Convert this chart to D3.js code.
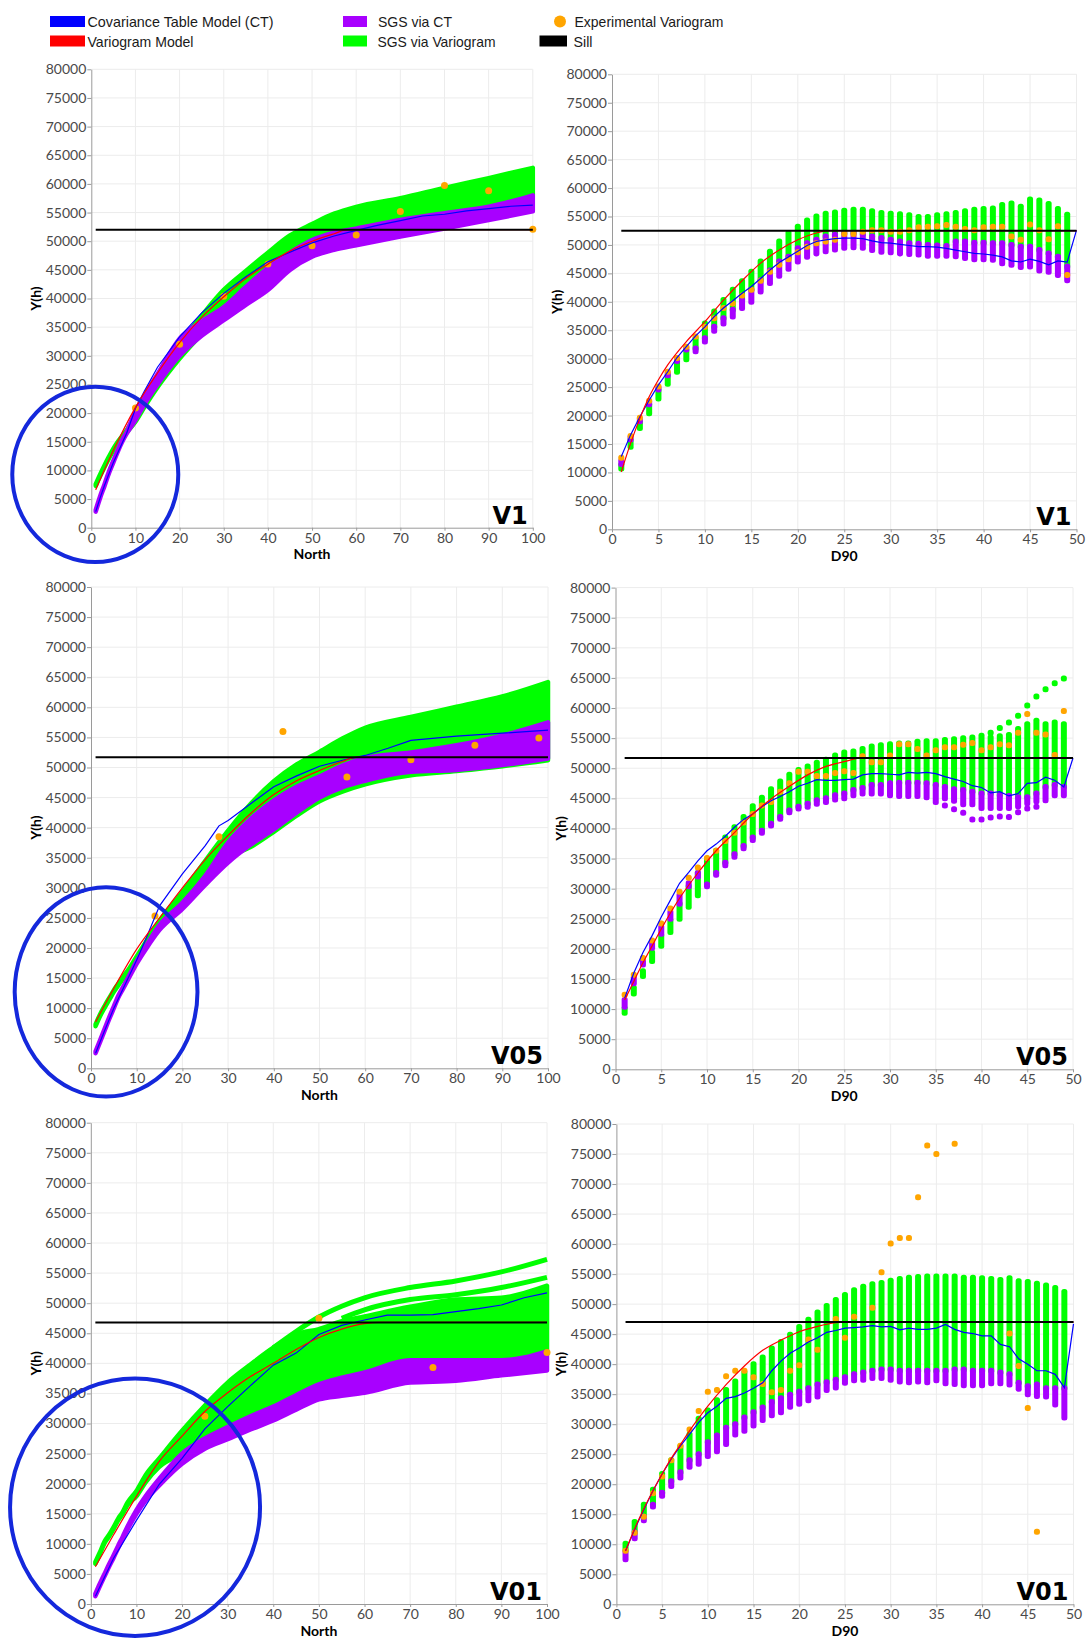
<!DOCTYPE html>
<html lang="en">
<head>
<meta charset="UTF-8">
<title>SGS variograms</title>
<script src="https://cdn.jsdelivr.net/npm/d3@7"></script>
<style>
  body { margin: 0; background: #fff; }
  .tick text { font-family: Lato, "Noto Sans", sans-serif; font-size: 14px; fill: #4a4a4a; }
  .tick line, .domain { stroke: #9a9a9a; }
</style>
</head>
<body>
<script>
var W = 1086, H = 1639;

// ---- ticks and lags ----
var yTicks = [0, 5000, 10000, 15000, 20000, 25000, 30000, 35000, 40000, 45000, 50000, 55000, 60000, 65000, 70000, 75000, 80000];
var northTicks = [0, 10, 20, 30, 40, 50, 60, 70, 80, 90, 100];
var d90Ticks = [0, 5, 10, 15, 20, 25, 30, 35, 40, 45, 50];
var northLags = [1, 2, 3, 4, 5, 6, 7, 8, 10, 12, 15, 20, 25, 30, 35, 40, 45, 50, 55, 60, 70, 80, 90, 100];
var d90Lags = d3.range(1, 50);
var d90LineLags = d3.range(1, 51);

// ---- V1 North ----
var v1NorthSill = 52000;
var v1NorthGreenHi = [7600, 9300, 10900, 12400, 13800, 15000, 16000, 17000, 19800, 22300, 26000, 32000, 37000, 41500, 44800, 48000, 51000, 53000, 54800, 56000, 57500, 59300, 61000, 62800];
var v1NorthGreenLo = [7300, 9000, 10600, 12100, 13500, 14700, 15700, 16600, 18500, 21000, 24500, 29500, 33800, 38000, 41800, 45300, 48000, 50200, 51500, 52200, 53700, 54900, 56000, 58000];
var v1NorthPurpleLo = [2800, 5200, 7300, 9500, 11400, 13300, 15000, 16400, 18800, 21500, 25000, 30000, 33500, 36200, 38900, 41500, 45000, 47300, 48500, 49300, 50800, 52200, 53700, 55200];
var v1NorthPurpleHi = [3100, 5500, 7600, 9800, 11700, 13600, 15300, 16700, 20300, 23000, 26800, 33000, 36000, 38500, 42000, 45300, 48000, 50200, 51500, 52200, 53700, 54900, 56000, 58000];
var v1NorthBlueLags = [1, 2, 3, 5, 8, 10, 12, 15, 20, 25, 30, 35, 40, 45, 50, 55, 60, 65, 70, 75, 80, 85, 90, 95, 100];
var v1NorthBlue = [2800, 5200, 7400, 11400, 16500, 20800, 23800, 28000, 33300, 37500, 40900, 43800, 46400, 48100, 49700, 50900, 51900, 52800, 53600, 54400, 54700, 55300, 55700, 56100, 56300];
var v1NorthRedLags = [1, 5, 10, 15, 20, 25, 30, 35, 40, 45, 50, 55, 58, 70, 80, 90, 100];
var v1NorthRed = [6600, 13500, 21000, 27000, 32300, 36700, 40300, 43500, 46000, 48300, 50000, 51300, 52000, 52000, 52000, 52000, 52000];
var v1NorthExpLags = [10, 20, 30, 40, 50, 60, 70, 80, 90, 100];
var v1NorthExp = [20900, 32000, 40400, 46000, 49200, 51100, 55200, 59700, 58800, 52100];

// ---- V05 North ----
var v05NorthSill = 51700;
var v05NorthGreenHi = [7300, 9000, 10400, 11700, 13000, 14100, 15200, 16200, 18600, 21000, 24500, 29300, 34500, 39500, 44000, 47700, 50500, 52600, 54800, 56600, 58400, 60100, 61800, 64200];
var v05NorthGreenLo = [7000, 8700, 10100, 11400, 12700, 13800, 14900, 15900, 18000, 20300, 23600, 27000, 31000, 35000, 36800, 39300, 42000, 44400, 46000, 47200, 48700, 49400, 50200, 51200];
var v05NorthPurpleLo = [2500, 4400, 6300, 8200, 10000, 11800, 13200, 14600, 17400, 19800, 23000, 26500, 30500, 34200, 37200, 39700, 42500, 45000, 46700, 47800, 49300, 49600, 50400, 51500];
var v05NorthPurpleHi = [2800, 4700, 6600, 8500, 10300, 12100, 13500, 14900, 17800, 20300, 23800, 27500, 32000, 37500, 41500, 44500, 46800, 48500, 50300, 51600, 52500, 53700, 55300, 57500];
var v05NorthBlueLags = [1, 3, 5, 8, 10, 12, 15, 20, 25, 28, 30, 35, 40, 45, 50, 55, 60, 65, 70, 80, 90, 100];
var v05NorthBlue = [2500, 6300, 10000, 14800, 18000, 21500, 27000, 32300, 37000, 40300, 41200, 44000, 46800, 48600, 50200, 51200, 52000, 53200, 54500, 55200, 55700, 56200];
var v05NorthRedLags = [1, 5, 10, 15, 20, 25, 30, 35, 40, 45, 50, 55, 58, 70, 80, 90, 100];
var v05NorthRed = [7700, 13300, 19800, 25000, 30000, 34700, 38700, 42400, 45500, 47800, 49500, 51000, 51700, 51700, 51700, 51700, 51700];
var v05NorthExpLags = [14, 28, 42, 56, 70, 84, 98];
var v05NorthExp = [25300, 38500, 56000, 48400, 51300, 53700, 54900];

// ---- V01 North ----
var v01NorthSill = 46800;
var v01NorthGreenHi = [7000, 8600, 10400, 11500, 12800, 14200, 15300, 16800, 18800, 21400, 24200, 28800, 33000, 36800, 39800, 42600, 44800, 45700, 47000, 47800, 49400, 50600, 50900, 52900];
var v01NorthGreenLo = [6700, 8300, 10100, 11200, 12500, 13900, 15000, 16400, 17900, 20200, 22800, 25000, 27500, 29400, 31200, 32800, 34700, 36500, 37600, 38500, 40500, 40500, 40500, 42000];
var v01NorthPurpleLo = [1300, 3000, 4600, 6200, 7700, 9300, 10800, 12300, 15000, 17200, 19700, 23300, 25800, 27400, 29000, 30500, 32300, 34000, 34600, 35100, 36800, 37100, 38000, 38800];
var v01NorthPurpleHi = [1700, 3400, 5000, 6600, 8100, 9700, 11200, 12800, 15600, 17900, 20800, 25000, 27500, 29400, 31200, 32800, 34700, 36500, 37600, 38500, 40500, 40500, 40500, 42000];
var v01NorthTopRealLags = [40, 45, 50, 55, 60, 70, 80, 90, 100];
var v01NorthTopReal = [42600, 45300, 47700, 49500, 50900, 52600, 53700, 55200, 57300];
var v01NorthSecondRealLags = [55, 60, 70, 80, 90, 100];
var v01NorthSecondReal = [47500, 48900, 50600, 51400, 52600, 54300];
var v01NorthBlueLags = [1, 5, 10, 15, 20, 25, 30, 35, 40, 45, 50, 55, 60, 65, 70, 75, 80, 85, 90, 95, 100];
var v01NorthBlue = [1300, 7600, 13900, 19900, 24200, 29100, 32800, 36300, 39700, 41700, 44800, 46300, 47200, 48000, 48000, 48100, 48600, 49100, 49700, 50900, 51700];
var v01NorthRedLags = [1, 5, 10, 15, 20, 25, 30, 35, 40, 45, 50, 55, 60, 63, 70, 80, 90, 100];
var v01NorthRed = [6200, 11500, 17900, 23700, 27900, 32000, 35100, 37800, 40000, 42300, 44300, 45700, 46600, 46800, 46800, 46800, 46800, 46800];
var v01NorthExpLags = [25, 50, 75, 100];
var v01NorthExp = [31200, 47500, 39300, 41800];

// ---- V1 D90 ----
var v1D90Sill = 52500;
var v1D90Exp = [12600, 16400, 19600, 22600, 25100, 27700, 30100, 32100, 33900, 35600, 37100, 38900, 39700, 41100, 42100, 43700, 45300, 46500, 47500, 48700, 49700, 50300, 50600, 50900, 51900, 51900, 52300, 52600, 52600, 52300, 52300, 52600, 53100, 53200, 53300, 53500, 53200, 52800, 52600, 53100, 53200, 53200, 51500, 50900, 53600, 52600, 51000, 53300, 44700];
var v1D90GreenHi = [11300, 15700, 18900, 21900, 24500, 27000, 29500, 31500, 33600, 36200, 38300, 40300, 42100, 43600, 45300, 47100, 48800, 50600, 52100, 53200, 54300, 55000, 55500, 55700, 56000, 56200, 56200, 55900, 55600, 55500, 55400, 55200, 54900, 54900, 55200, 55400, 55600, 55900, 56200, 56300, 56400, 57000, 57300, 56700, 58000, 57800, 57200, 56300, 55300];
var v1D90GreenLo = [10700, 14500, 17800, 20400, 23000, 25600, 27700, 29900, 31800, 33600, 35600, 37100, 38600, 40300, 42100, 43800, 45500, 47100, 47900, 49400, 50300, 50900, 51500, 51800, 52100, 52100, 51900, 51500, 51200, 50900, 50600, 50300, 50200, 50000, 49900, 49800, 50600, 50600, 50400, 50400, 50300, 50300, 50000, 49700, 49700, 49100, 48500, 47900, 46200];
var v1D90PurpleLo = [11500, 15800, 19000, 22000, 24600, 27100, 29600, 31600, 31300, 33000, 34900, 36200, 37400, 38900, 40000, 41800, 43300, 44600, 45800, 47100, 47900, 48500, 48900, 49200, 49500, 49600, 49500, 49100, 48800, 48700, 48500, 48400, 48300, 48100, 48100, 48100, 48000, 47700, 47500, 47500, 47400, 46800, 46500, 46100, 46200, 45500, 45300, 44700, 43800];
var v1D90PurpleHi = [12000, 16200, 19400, 22400, 24900, 27400, 29900, 31900, 31800, 33600, 35600, 37100, 38600, 40300, 42100, 43800, 45500, 47100, 47900, 49400, 50300, 50900, 51500, 51800, 52100, 52100, 51900, 51500, 51200, 50900, 50600, 50300, 50200, 50000, 49900, 49800, 50600, 50600, 50400, 50400, 50300, 50300, 50000, 49700, 49700, 49100, 48500, 47900, 46200];
var v1D90Blue = [12800, 16600, 19800, 22700, 25400, 27700, 30200, 32100, 34000, 35600, 37400, 38900, 40200, 41500, 42700, 44100, 45600, 46900, 47900, 48900, 49900, 50600, 50900, 51100, 51200, 51200, 51100, 50700, 50400, 50300, 50100, 49900, 49700, 49700, 49600, 49400, 49100, 48800, 48500, 48400, 48200, 47900, 47200, 47000, 47500, 47100, 46500, 47200, 47000, 52600];
var v1D90RedLags = [1, 2, 3, 4, 5, 6, 8, 10, 12, 14, 16, 18, 20, 22, 23.5, 50];
var v1D90Red = [10100, 15100, 19500, 23300, 26300, 28900, 33000, 36500, 40300, 43700, 46800, 49100, 50900, 52100, 52500, 52500];

// ---- V05 D90 ----
var v05D90Sill = 51700;
var v05D90Exp = [12400, 15700, 18500, 21400, 24200, 26700, 29500, 31800, 33500, 35100, 36300, 37900, 39300, 41000, 42400, 43800, 44400, 46100, 47500, 49400, 49400, 48700, 48700, 49200, 49500, 49200, 52000, 51000, 51000, 52100, 54000, 54000, 53200, 52100, 53000, 53500, 53500, 53900, 54200, 53000, 53500, 54000, 53800, 55900, 59000, 55900, 55600, 52200, 59500];
var v05D90GreenHi = [10100, 13500, 16300, 19400, 22200, 24700, 27500, 30400, 32600, 34900, 36300, 38500, 40200, 41900, 43700, 45100, 46500, 47800, 48900, 49700, 50300, 50900, 51400, 52100, 52600, 52800, 53200, 53600, 53800, 54000, 54100, 54100, 54400, 54500, 54500, 54700, 54800, 55000, 55100, 55400, 55100, 55300, 55500, 56500, 57300, 57900, 57300, 57600, 57300];
var v05D90GreenLo = [9400, 12600, 15500, 18000, 20500, 22800, 25000, 27000, 28900, 30700, 32600, 34300, 35700, 37100, 38500, 39600, 40800, 41900, 43000, 43600, 44100, 44700, 45000, 45500, 45800, 46400, 46700, 47200, 47200, 47500, 47600, 47600, 47600, 47500, 47200, 46900, 46500, 46400, 46100, 45800, 45800, 45500, 45400, 45200, 45200, 45800, 46900, 47200, 46900];
var v05D90PurpleLo = [10400, 14300, 17400, 20200, 22500, 25000, 27500, 30400, 32000, 30400, 32300, 33900, 35300, 36700, 38100, 39300, 40500, 41600, 42700, 43300, 43600, 44100, 44400, 44800, 45000, 45500, 45800, 45800, 45800, 45500, 45400, 45400, 45400, 45200, 44400, 45000, 44600, 44000, 44000, 43400, 43400, 43400, 43400, 43700, 44200, 44500, 44700, 45500, 45500];
var v05D90PurpleHi = [11500, 15200, 18000, 21100, 23600, 26100, 28900, 30900, 32600, 30700, 32600, 34300, 35700, 37100, 38500, 39600, 40800, 41900, 43000, 43600, 44100, 44700, 45000, 45500, 45800, 46400, 46700, 47200, 47200, 47500, 47600, 47600, 47600, 47500, 47200, 46900, 46500, 46400, 46100, 45800, 45800, 45500, 45400, 45200, 45200, 45800, 46900, 47200, 46900];
var v05D90PurpleDotLags = [36, 37, 38, 39, 40, 41, 42, 43, 44, 45, 46];
var v05D90PurpleDots = [43800, 43200, 42600, 41500, 41500, 41800, 42000, 41900, 42700, 43300, 43600];
var v05D90GreenDotLags = [41, 42, 43, 44, 45, 46, 47, 48, 49];
var v05D90GreenDots = [55900, 56700, 57600, 58700, 60400, 61900, 63100, 64100, 64900];
var v05D90Blue = [11800, 16000, 19400, 22200, 25300, 28100, 30900, 32700, 34600, 36300, 37400, 38700, 40200, 41500, 42400, 43600, 44600, 45300, 46100, 47000, 47500, 48100, 48000, 48000, 48100, 48200, 48900, 49100, 49100, 49000, 48900, 49300, 49200, 49300, 49100, 48600, 48200, 47800, 47100, 46800, 45900, 46100, 45400, 45800, 47500, 47600, 48500, 48000, 46900, 51700];
var v05D90RedLags = [1, 2, 3, 4, 5, 7, 9, 11, 13, 15, 17, 19, 21, 23, 25, 27, 50];
var v05D90Red = [11500, 14600, 17700, 20500, 23300, 28400, 32600, 36300, 39300, 42400, 44900, 47000, 48900, 50300, 51100, 51700, 51700];

// ---- V01 D90 ----
var v01D90Sill = 47000;
var v01D90Exp = [8900, 11900, 14600, 18500, 21300, 24000, 26400, 29100, 32200, 35400, 35700, 38000, 38900, 38900, 37800, 36700, 35300, 35700, 38900, 39800, 44100, 42400, null, 47500, 44400, 47900, null, 49400, 55300, 60100, 61000, 61000, 67800, 76400, 75000, null, 76700, null, null, null, null, null, 45100, 39700, 32700, 12100, null, null, null];
var v01D90GreenHi = [10100, 13700, 16600, 19100, 21700, 24000, 26300, 28300, 30900, 32300, 34000, 35700, 37100, 38600, 40000, 41100, 42600, 43700, 44900, 46200, 47400, 48600, 49700, 50700, 51500, 52300, 52900, 53300, 53500, 53900, 54200, 54400, 54500, 54600, 54600, 54600, 54600, 54400, 54400, 54300, 54200, 54000, 54300, 53800, 53700, 53400, 53100, 52700, 52000];
var v01D90GreenLo = [9100, 12000, 14600, 16600, 18600, 20500, 22000, 24000, 25000, 27000, 28100, 29400, 30000, 31100, 32000, 32800, 33700, 34300, 34900, 35400, 36000, 36600, 37000, 37400, 37800, 38300, 38600, 38900, 39100, 39100, 38900, 38900, 38900, 38900, 38900, 38900, 39100, 39100, 38900, 38900, 38900, 38600, 38300, 36900, 36300, 36600, 36000, 36000, 36000];
var v01D90PurpleLo = [7500, 11000, 14000, 16300, 18100, 19700, 21100, 22900, 23400, 24700, 25500, 26700, 28300, 28900, 29800, 30700, 31500, 32000, 32900, 33400, 34000, 34600, 35700, 36100, 36900, 37300, 37400, 37700, 37700, 37400, 37100, 37000, 37100, 37000, 37300, 36800, 36700, 36500, 36500, 36500, 36800, 36800, 36600, 35900, 35000, 34700, 34600, 33300, 31100];
var v01D90PurpleHi = [8700, 12000, 14600, 16600, 18600, 20500, 22000, 24000, 25000, 27000, 28100, 29400, 30000, 31100, 32000, 32800, 33700, 34300, 34900, 35400, 36000, 36600, 37000, 37400, 37800, 38300, 38600, 38900, 39100, 39100, 38900, 38900, 38900, 38900, 38900, 38900, 39100, 39100, 38900, 38900, 38900, 38600, 38300, 36900, 36300, 36600, 36000, 36000, 36000];
var v01D90Blue = [8900, 12500, 15800, 18900, 21700, 24200, 26400, 28300, 30300, 31900, 33000, 34300, 34600, 35200, 36000, 36900, 38900, 40500, 41800, 42700, 43700, 44400, 45300, 45600, 46000, 46100, 46200, 46400, 46200, 46300, 45700, 46000, 45800, 45800, 46000, 46600, 45800, 45300, 45100, 44700, 44700, 43300, 42900, 40900, 40000, 38900, 38900, 38300, 36100, 46700];
var v01D90RedLags = [1, 2, 3, 4, 5, 6, 7, 8, 9, 10, 12, 14, 16, 18, 20, 22, 24, 25, 50];
var v01D90Red = [8900, 12600, 15900, 18900, 21700, 24300, 26600, 28900, 31000, 33000, 36600, 39700, 42300, 44000, 45400, 46300, 46900, 47000, 47000];

// ---- colours ----
var cBlue = "#0000ff", cRed = "#ff0000", cPurple = "#a800ff", cGreen = "#00ff00", cOrange = "#ffa500", cSill = "#000000";

var svg = d3.select("body").append("svg").attr("width", W).attr("height", H);

// ---- legend ----
var legend = [
  {label: "Covariance Table Model (CT)", color: cBlue, kind: "rect", x: 50, w: 35, tx: 87.5, tw: 186, row: 0},
  {label: "Variogram Model", color: cRed, kind: "rect", x: 50, w: 35, tx: 87.5, tw: 106, row: 1},
  {label: "SGS via CT", color: cPurple, kind: "rect", x: 343, w: 24, tx: 378, tw: 74, row: 0},
  {label: "SGS via Variogram", color: cGreen, kind: "rect", x: 343, w: 24, tx: 377.5, tw: 118, row: 1},
  {label: "Experimental Variogram", color: cOrange, kind: "dot", x: 560, w: 0, tx: 574.5, tw: 149, row: 0},
  {label: "Sill", color: cSill, kind: "rect", x: 539.5, w: 27.5, tx: 573.5, tw: 19, row: 1}
];
var lg = svg.append("g");
legend.forEach(function(d) {
  var cy = 21.5 + d.row * 19.5;
  if (d.kind === "rect") {
    lg.append("rect").attr("x", d.x).attr("y", cy - 5.5).attr("width", d.w).attr("height", 11).attr("fill", d.color);
  } else {
    lg.append("circle").attr("cx", d.x).attr("cy", cy).attr("r", 6).attr("fill", d.color);
  }
  lg.append("text").attr("x", d.tx).attr("y", cy + 5.5)
    .attr("textLength", d.tw).attr("lengthAdjust", "spacingAndGlyphs")
    .style("font-family", "'Liberation Sans', Arial, sans-serif").style("font-size", "15px").attr("fill", "#1a1a1a")
    .text(d.label);
});

function zip(lags, a, b) {
  return lags.map(function(l, i) { return {lag: l, lo: a[i], hi: b ? b[i] : a[i]}; })
             .filter(function(d) { return d.lo != null; });
}

function frame(p) {
  var x = d3.scaleLinear().domain([0, p.xMax]).range([p.left, p.right]);
  var y = d3.scaleLinear().domain([0, 80000]).range([p.bottom, p.top]);
  var g = svg.append("g");

  g.append("g").selectAll("line").data(p.xTicks.slice(1)).join("line")
    .attr("x1", x).attr("x2", x).attr("y1", y(0)).attr("y2", y(80000))
    .attr("stroke", "#ececec");
  g.append("g").selectAll("line").data(yTicks.slice(1)).join("line")
    .attr("x1", x(0)).attr("x2", x(p.xMax)).attr("y1", y).attr("y2", y)
    .attr("stroke", "#ececec");

  g.append("g").attr("transform", "translate(0," + p.bottom + ")")
    .call(d3.axisBottom(x).tickValues(p.xTicks).tickSize(3).tickSizeOuter(0).tickPadding(2));
  g.append("g").attr("transform", "translate(" + p.left + ",0)")
    .call(d3.axisLeft(y).tickValues(yTicks).tickSize(4).tickSizeOuter(0).tickPadding(1).tickFormat(d3.format("d")));

  g.append("text").attr("x", (p.left + p.right) / 2).attr("y", p.bottom + 31.5)
    .attr("text-anchor", "middle").style("font-family", "Lato, sans-serif").style("font-weight", "bold")
    .style("font-size", "14px").text(p.xTitle);
  g.append("text").attr("transform", "translate(" + (p.left - 50) + "," + ((p.top + p.bottom) / 2) + ") rotate(-90)")
    .attr("text-anchor", "middle").style("font-family", "Lato, sans-serif").style("font-weight", "bold")
    .style("font-size", "14px").text("Y(h)");

  return {g: g, x: x, y: y};
}

function lineOf(x, y, curve) {
  return d3.line().x(function(d) { return x(d.lag); }).y(function(d) { return y(d.lo); }).curve(curve || d3.curveLinear);
}

function finish(f, p, blue, red) {
  var g = f.g, x = f.x, y = f.y;
  g.append("path").datum(blue).attr("d", lineOf(x, y)).attr("fill", "none").attr("stroke", cBlue).attr("stroke-width", 1.2);
  g.append("path").datum(red).attr("d", lineOf(x, y, d3.curveMonotoneX)).attr("fill", "none").attr("stroke", cRed).attr("stroke-width", 1.2);
  g.append("line").attr("x1", x(1)).attr("x2", x(p.xMax)).attr("y1", y(p.sill)).attr("y2", y(p.sill))
    .attr("stroke", cSill).attr("stroke-width", 2);
  g.append("text").attr("x", p.right - 5).attr("y", p.bottom - 4).attr("text-anchor", "end")
    .style("font-family", "'DejaVu Sans', Verdana, sans-serif").style("font-weight", "bold").style("font-size", "24px")
    .attr("fill", "#000").text(p.name);
  if (p.ring) {
    g.append("ellipse").attr("cx", x(p.ring.cx)).attr("cy", y(p.ring.cy))
      .attr("rx", x(p.ring.rx) - x(0)).attr("ry", y(0) - y(p.ring.ry))
      .attr("fill", "none").attr("stroke", "#1428dc").attr("stroke-width", 4);
  }
}

function northPanel(p) {
  var f = frame(p), g = f.g, x = f.x, y = f.y;
  var band = d3.area().x(function(d) { return x(d.lag); })
    .y0(function(d) { return y(d.lo); }).y1(function(d) { return y(d.hi); }).curve(d3.curveMonotoneX);
  g.append("path").datum(zip(northLags, p.greenLo, p.greenHi)).attr("d", band)
    .attr("fill", cGreen).attr("stroke", cGreen).attr("stroke-width", 4.5).attr("stroke-linejoin", "round");
  (p.extraGreen || []).forEach(function(e) {
    g.append("path").datum(zip(e[0], e[1])).attr("d", lineOf(x, y, d3.curveMonotoneX))
      .attr("fill", "none").attr("stroke", cGreen).attr("stroke-width", 5);
  });
  g.append("path").datum(zip(northLags, p.purpleLo, p.purpleHi)).attr("d", band)
    .attr("fill", cPurple).attr("stroke", cPurple).attr("stroke-width", 4.5).attr("stroke-linejoin", "round");
  g.append("g").selectAll("circle").data(zip(p.expLags, p.exp)).join("circle")
    .attr("cx", function(d) { return x(d.lag); }).attr("cy", function(d) { return y(d.lo); })
    .attr("r", 3.5).attr("fill", cOrange);
  finish(f, p, zip(p.blueLags, p.blue), zip(p.redLags, p.red));
}

function d90Panel(p) {
  var f = frame(p), g = f.g, x = f.x, y = f.y;
  function cols(data, color) {
    g.append("g").selectAll("rect").data(data).join("rect")
      .attr("x", function(d) { return x(d.lag) - 3; }).attr("width", 6)
      .attr("y", function(d) { return y(d.hi) - 3; })
      .attr("height", function(d) { return y(d.lo) - y(d.hi) + 6; })
      .attr("rx", 2.5).attr("fill", color);
  }
  cols(zip(d90Lags, p.greenLo, p.greenHi), cGreen);
  if (p.greenDots) cols(zip(p.greenDots[0], p.greenDots[1]), cGreen);
  cols(zip(d90Lags, p.purpleLo, p.purpleHi), cPurple);
  if (p.purpleDots) cols(zip(p.purpleDots[0], p.purpleDots[1]), cPurple);
  cols(zip(d90Lags, p.exp), cOrange);
  finish(f, p, zip(d90LineLags, p.blue), zip(p.redLags, p.red));
}

northPanel({name: "V1", xTitle: "North", xMax: 100, xTicks: northTicks, left: 91.3, right: 532.8, bottom: 527.7, top: 69.3,
  sill: v1NorthSill, greenLo: v1NorthGreenLo, greenHi: v1NorthGreenHi, purpleLo: v1NorthPurpleLo, purpleHi: v1NorthPurpleHi,
  blueLags: v1NorthBlueLags, blue: v1NorthBlue, redLags: v1NorthRedLags, red: v1NorthRed, expLags: v1NorthExpLags, exp: v1NorthExp,
  ring: {cx: 0.9, cy: 9300, rx: 18.8, ry: 15300}});

d90Panel({name: "V1", xTitle: "D90", xMax: 50, xTicks: d90Ticks, left: 612, right: 1076.5, bottom: 529.3, top: 74.3,
  sill: v1D90Sill, greenLo: v1D90GreenLo, greenHi: v1D90GreenHi, purpleLo: v1D90PurpleLo, purpleHi: v1D90PurpleHi,
  exp: v1D90Exp, blue: v1D90Blue, redLags: v1D90RedLags, red: v1D90Red});

northPanel({name: "V05", xTitle: "North", xMax: 100, xTicks: northTicks, left: 91, right: 548, bottom: 1068.3, top: 587,
  sill: v05NorthSill, greenLo: v05NorthGreenLo, greenHi: v05NorthGreenHi, purpleLo: v05NorthPurpleLo, purpleHi: v05NorthPurpleHi,
  blueLags: v05NorthBlueLags, blue: v05NorthBlue, redLags: v05NorthRedLags, red: v05NorthRed, expLags: v05NorthExpLags, exp: v05NorthExp,
  ring: {cx: 3.3, cy: 12700, rx: 20, ry: 17400}});

d90Panel({name: "V05", xTitle: "D90", xMax: 50, xTicks: d90Ticks, left: 615.5, right: 1073, bottom: 1069.3, top: 587.6,
  sill: v05D90Sill, greenLo: v05D90GreenLo, greenHi: v05D90GreenHi, purpleLo: v05D90PurpleLo, purpleHi: v05D90PurpleHi,
  greenDots: [v05D90GreenDotLags, v05D90GreenDots], purpleDots: [v05D90PurpleDotLags, v05D90PurpleDots],
  exp: v05D90Exp, blue: v05D90Blue, redLags: v05D90RedLags, red: v05D90Red});

northPanel({name: "V01", xTitle: "North", xMax: 100, xTicks: northTicks, left: 90.8, right: 547, bottom: 1604, top: 1122.7,
  sill: v01NorthSill, greenLo: v01NorthGreenLo, greenHi: v01NorthGreenHi, purpleLo: v01NorthPurpleLo, purpleHi: v01NorthPurpleHi,
  extraGreen: [[v01NorthTopRealLags, v01NorthTopReal], [v01NorthSecondRealLags, v01NorthSecondReal]],
  blueLags: v01NorthBlueLags, blue: v01NorthBlue, redLags: v01NorthRedLags, red: v01NorthRed, expLags: v01NorthExpLags, exp: v01NorthExp,
  ring: {cx: 9.7, cy: 16100, rx: 27.4, ry: 21400}});

d90Panel({name: "V01", xTitle: "D90", xMax: 50, xTicks: d90Ticks, left: 616.4, right: 1073.5, bottom: 1604.3, top: 1124,
  sill: v01D90Sill, greenLo: v01D90GreenLo, greenHi: v01D90GreenHi, purpleLo: v01D90PurpleLo, purpleHi: v01D90PurpleHi,
  exp: v01D90Exp, blue: v01D90Blue, redLags: v01D90RedLags, red: v01D90Red});
</script>
</body>
</html>
